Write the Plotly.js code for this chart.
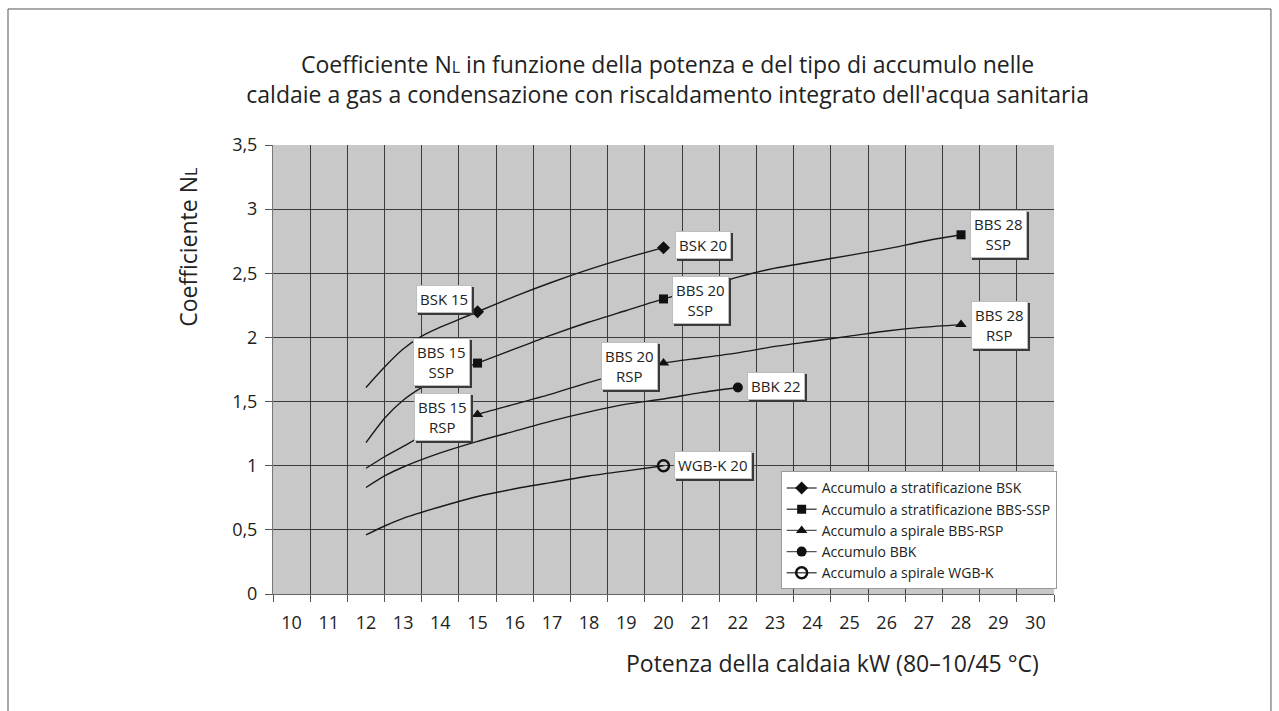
<!DOCTYPE html>
<html>
<head>
<meta charset="utf-8">
<script src="https://cdn.plot.ly/plotly-3.0.1.min.js"></script>
<style>
  html, body { margin: 0; padding: 0; background: #fff; }
  #chart { width: 1279px; height: 711px; }
</style>
</head>
<body>
<div id="chart"></div>
<script>
// curves
const xBSK = [12, 12.5, 13, 13.5, 14, 14.5, 15, 16, 17, 18, 19, 20];
const yBSK = [1.61, 1.77, 1.91, 2.01, 2.08, 2.14, 2.20, 2.32, 2.43, 2.53, 2.62, 2.70];

const xSSP = [12, 12.5, 13, 13.5, 14, 14.5, 15, 16, 17, 18, 19, 20, 21, 22, 23, 24, 25, 26, 27, 28];
const ySSP = [1.18, 1.37, 1.51, 1.61, 1.69, 1.75, 1.80, 1.91, 2.02, 2.12, 2.21, 2.30, 2.38, 2.47, 2.54, 2.59, 2.64, 2.69, 2.75, 2.80];

const xRSP = [12, 12.5, 13, 13.5, 14, 14.5, 15, 16, 17, 18, 19, 20, 21, 22, 23, 24, 25, 26, 27, 28];
const yRSP = [0.98, 1.07, 1.15, 1.23, 1.29, 1.35, 1.40, 1.48, 1.56, 1.65, 1.73, 1.80, 1.84, 1.88, 1.93, 1.97, 2.01, 2.05, 2.08, 2.10];

const xBBK = [12, 12.5, 13, 14, 15, 16, 17, 18, 19, 20, 21, 22];
const yBBK = [0.83, 0.92, 0.99, 1.10, 1.19, 1.27, 1.35, 1.42, 1.48, 1.52, 1.57, 1.61];

const xWGB = [12, 12.5, 13, 14, 15, 16, 17, 18, 19, 20];
const yWGB = [0.46, 0.53, 0.59, 0.68, 0.76, 0.82, 0.87, 0.92, 0.96, 1.00];

// labelled points
const markBSK = { x: [15, 20], y: [2.20, 2.70], text: ["BSK 15", "BSK 20"] };
const markSSP = { x: [15, 20, 28], y: [1.80, 2.30, 2.80], text: ["BBS 15<br>SSP", "BBS 20<br>SSP", "BBS 28<br>SSP"] };
const markRSP = { x: [15, 20, 28], y: [1.40, 1.80, 2.10], text: ["BBS 15<br>RSP", "BBS 20<br>RSP", "BBS 28<br>RSP"] };
const markBBK = { x: [22], y: [1.61], text: ["BBK 22"] };
const markWGB = { x: [20], y: [1.00], text: ["WGB-K 20"] };

const seriesNames = [
  "Accumulo a stratificazione BSK",
  "Accumulo a stratificazione BBS-SSP",
  "Accumulo a spirale BBS-RSP",
  "Accumulo BBK",
  "Accumulo a spirale WGB-K"
];

const xTicks = [10, 11, 12, 13, 14, 15, 16, 17, 18, 19, 20, 21, 22, 23, 24, 25, 26, 27, 28, 29, 30];
const xCells = [9.5, 10.5, 11.5, 12.5, 13.5, 14.5, 15.5, 16.5, 17.5, 18.5, 19.5, 20.5, 21.5, 22.5, 23.5, 24.5, 25.5, 26.5, 27.5, 28.5, 29.5, 30.5];
const yTickVals = [0, 0.5, 1, 1.5, 2, 2.5, 3, 3.5];
const yTickText = ["0", "0,5", "1", "1,5", "2", "2,5", "3", "3,5"];

const FONT = "Open Sans, Noto Sans, sans-serif";
const INK = "#222";

// box offsets in px from the marker (dx right, dy up)
const labelOffsets = {
  "BSK 15": [-34, 13], "BSK 20": [39, 3],
  "BBS 15<br>SSP": [-36, 1], "BBS 20<br>SSP": [37, -1], "BBS 28<br>SSP": [37, 1],
  "BBS 15<br>RSP": [-35, -3], "BBS 20<br>RSP": [-34, -3], "BBS 28<br>RSP": [38, 0],
  "BBK 22": [38, 1], "WGB-K 20": [49, 1]
};

function gapped(arr) {
  const out = [];
  arr.forEach((v, i) => { if (i) out.push(null); out.push(v); });
  return out;
}

const curves = [[xBSK, yBSK], [xSSP, ySSP], [xRSP, yRSP], [xBBK, yBBK], [xWGB, yWGB]];
const marks = [markBSK, markSSP, markRSP, markBBK, markWGB];
const symbols = [
  { symbol: "diamond", size: 10 },
  { symbol: "square", size: 9 },
  { symbol: "triangle-up", size: 10 },
  { symbol: "circle", size: 10 },
  { symbol: "circle-open", size: 11, line: { width: 2.5, color: "#111" } }
];

const data = [];
curves.forEach(c => {
  data.push({
    x: c[0], y: c[1], type: "scatter", mode: "lines",
    line: { color: "#1a1a1a", width: 1.4, shape: "spline", smoothing: 0.6 },
    showlegend: false, hoverinfo: "skip"
  });
});
marks.forEach((m, i) => {
  data.push({
    x: gapped(m.x), y: gapped(m.y), type: "scatter", mode: "lines+markers",
    name: seriesNames[i], connectgaps: false,
    line: { color: "#555", width: 1.4 },
    marker: Object.assign({ color: "#111" }, symbols[i])
  });
});

const annotations = [];
marks.forEach(m => {
  m.x.forEach((x, j) => {
    const t = m.text[j];
    const off = labelOffsets[t];
    // shadow
    annotations.push({
      x: x, y: m.y[j], text: t, showarrow: false, xanchor: "center", yanchor: "middle",
      xshift: off[0] + 2, yshift: off[1] - 2,
      font: { family: FONT, size: 15, color: "#3a3a3a" },
      bgcolor: "#3a3a3a", bordercolor: "#3a3a3a", borderwidth: 1, borderpad: 3
    });
    annotations.push({
      x: x, y: m.y[j], text: t, showarrow: false, xanchor: "center", yanchor: "middle",
      xshift: off[0], yshift: off[1],
      font: { family: FONT, size: 15, color: INK },
      bgcolor: "#ffffff", bordercolor: "#bdbdbd", borderwidth: 1, borderpad: 3
    });
  });
});

annotations.push({
  xref: "paper", yref: "paper", x: -0.109, y: 0.773, textangle: -90,
  text: "Coefficiente N<span style=\"font-size:16px\">L</span>",
  showarrow: false, xanchor: "center", yanchor: "middle",
  font: { family: FONT, size: 23, color: INK }
});
annotations.push({
  xref: "paper", yref: "paper", x: 0.716, y: -0.154,
  text: "Potenza della caldaia kW (80–10/45 °C)",
  showarrow: false, xanchor: "center", yanchor: "middle",
  font: { family: FONT, size: 23, color: INK }
});

const layout = {
  width: 1279, height: 711,
  margin: { l: 273, r: 225, t: 145, b: 117 },
  paper_bgcolor: "#ffffff",
  plot_bgcolor: "#c8c8c8",
  separators: ",.",
  font: { family: FONT, color: INK },
  title: {
    text: "Coefficiente N<span style=\"font-size:16px\">L</span> in funzione della potenza e del tipo di accumulo nelle<br>caldaie a gas a condensazione con riscaldamento integrato dell'acqua sanitaria",
    font: { family: FONT, size: 23, color: INK },
    xref: "container", x: 0.522, xanchor: "center",
    yref: "container", y: 0.897, yanchor: "middle"
  },
  xaxis: {
    range: [9.5, 30.5], fixedrange: true,
    tickmode: "array", tickvals: xTicks,
    ticks: "", showgrid: false, zeroline: false,
    tickfont: { family: FONT, size: 18, color: INK },
    ticklabelstandoff: 12,
    showline: true, linecolor: "#666", linewidth: 1,
    minor: {
      tickmode: "array", tickvals: xCells,
      ticks: "outside", ticklen: 7, tickcolor: "#555", tickwidth: 1,
      showgrid: true, gridcolor: "#3c3c3c", gridwidth: 1
    }
  },
  yaxis: {
    range: [0, 3.5], fixedrange: true,
    tickmode: "array", tickvals: yTickVals, ticktext: yTickText,
    ticks: "outside", ticklen: 7, tickcolor: "#555",
    ticklabelstandoff: 4,
    showgrid: true, gridcolor: "#3c3c3c", gridwidth: 1, zeroline: false,
    tickfont: { family: FONT, size: 18, color: INK },
    showline: true, linecolor: "#777", linewidth: 1
  },
  legend: {
    x: 0.650, y: 0.273, xanchor: "left", yanchor: "top",
    bgcolor: "#ffffff", bordercolor: "#999", borderwidth: 1,
    font: { family: FONT, size: 14, color: INK },
    tracegroupgap: 0, itemwidth: 30
  },
  shapes: [{
    type: "rect", xref: "paper", yref: "paper",
    x0: -0.3393, x1: 1.2778, y0: -0.2806, y1: 1.3029,
    line: { color: "#555", width: 1 }, fillcolor: "rgba(0,0,0,0)"
  }],
  annotations: annotations
};

Plotly.newPlot("chart", data, layout, { displayModeBar: false, staticPlot: true });
</script>
</body>
</html>
